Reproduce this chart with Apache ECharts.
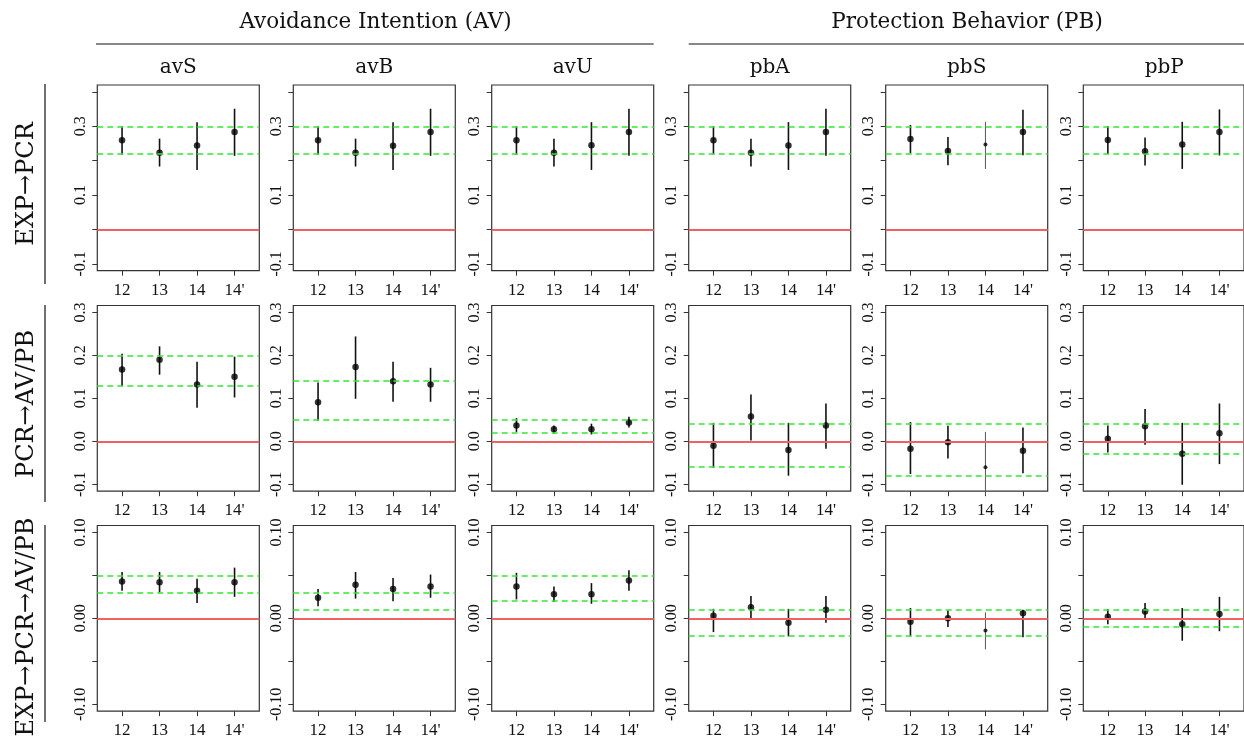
<!DOCTYPE html>
<html>
<head>
<meta charset="UTF-8">
<title>Mediation estimates</title>
<script src="https://cdn.jsdelivr.net/npm/echarts@6/dist/echarts.min.js"></script>
<style>
  html, body { margin: 0; padding: 0; background: #fff; }
  #main { width: 1244px; height: 740px; }
</style>
</head>
<body>
<div id="main"></div>
<script>
// studies on the x axis, outcomes across, paths down
var studies = ['12', '13', '14', "14'"];
var outcomes = ['avS', 'avB', 'avU', 'pbA', 'pbS', 'pbP'];
var paths = ['EXP\u2192PCR', 'PCR\u2192AV/PB', 'EXP\u2192PCR\u2192AV/PB'];
var groups = ['Avoidance Intention (AV)', 'Protection Behavior (PB)'];

// EXP -> PCR
var estA = [
  [0.259, 0.223, 0.244, 0.283], [0.259, 0.223, 0.243, 0.283], [0.259, 0.223, 0.245, 0.283],
  [0.259, 0.223, 0.244, 0.283], [0.263, 0.228, 0.247, 0.283], [0.260, 0.227, 0.247, 0.283]
];
var lowA = [
  [0.217, 0.183, 0.173, 0.214], [0.217, 0.183, 0.173, 0.214], [0.217, 0.183, 0.173, 0.214],
  [0.218, 0.183, 0.173, 0.214], [0.221, 0.187, 0.176, 0.216], [0.219, 0.186, 0.176, 0.215]
];
var highA = [
  [0.300, 0.264, 0.312, 0.351], [0.300, 0.264, 0.312, 0.351], [0.300, 0.264, 0.312, 0.351],
  [0.300, 0.264, 0.312, 0.351], [0.304, 0.269, 0.313, 0.348], [0.301, 0.267, 0.313, 0.349]
];
var bandA = [[0.218, 0.300], [0.218, 0.300], [0.218, 0.300], [0.218, 0.300], [0.221, 0.304], [0.219, 0.301]];

// PCR -> AV/PB
var estB = [
  [0.167, 0.190, 0.132, 0.150], [0.091, 0.173, 0.140, 0.132], [0.037, 0.028, 0.028, 0.044],
  [-0.010, 0.058, -0.020, 0.037], [-0.017, -0.002, -0.060, -0.022], [0.006, 0.035, -0.029, 0.019]
];
var lowB = [
  [0.128, 0.155, 0.078, 0.102], [0.048, 0.099, 0.092, 0.092], [0.022, 0.018, 0.016, 0.032],
  [-0.062, 0.002, -0.080, -0.017], [-0.076, -0.040, -0.125, -0.074], [-0.026, -0.008, -0.101, -0.053]
];
var highB = [
  [0.204, 0.221, 0.185, 0.197], [0.137, 0.244, 0.185, 0.171], [0.054, 0.037, 0.041, 0.057],
  [0.043, 0.109, 0.043, 0.088], [0.045, 0.036, 0.022, 0.032], [0.037, 0.075, 0.043, 0.088]
];
var bandB = [[0.128, 0.204], [0.048, 0.137], [0.022, 0.054], [-0.062, 0.043], [-0.076, 0.045], [-0.026, 0.037]];

// EXP -> PCR -> AV/PB
var estC = [
  [0.043, 0.042, 0.032, 0.042], [0.024, 0.039, 0.034, 0.037], [0.037, 0.028, 0.028, 0.044],
  [0.003, 0.013, -0.005, 0.010], [-0.004, 0.000, -0.014, 0.006], [0.002, 0.008, -0.007, 0.005]
];
var lowC = [
  [0.032, 0.030, 0.018, 0.025], [0.014, 0.023, 0.020, 0.024], [0.022, 0.019, 0.017, 0.032],
  [-0.016, -0.001, -0.021, -0.005], [-0.021, -0.010, -0.036, -0.022], [-0.007, -0.002, -0.026, -0.015]
];
var highC = [
  [0.054, 0.054, 0.046, 0.059], [0.034, 0.054, 0.047, 0.051], [0.053, 0.037, 0.041, 0.056],
  [0.011, 0.026, 0.011, 0.026], [0.012, 0.009, 0.007, 0.010], [0.011, 0.018, 0.012, 0.025]
];
var bandC = [[0.032, 0.054], [0.014, 0.034], [0.022, 0.053], [-0.016, 0.011], [-0.021, 0.012], [-0.007, 0.011]];

// y axis ticks and labels per row
var yTicks = [
  [-0.1, 0, 0.1, 0.2, 0.3, 0.4],
  [-0.1, 0, 0.1, 0.2, 0.3],
  [-0.1, -0.05, 0, 0.05, 0.1]
];
var yLabels = [
  [-0.1, 0.1, 0.3],
  [-0.1, 0, 0.1, 0.2, 0.3],
  [-0.1, 0, 0.1]
];
var yDigits = [1, 1, 2];
var yRange = [[-0.12, 0.42], [-0.116, 0.316], [-0.108, 0.108]];

var rows = [
  { est: estA, low: lowA, high: highA, band: bandA },
  { est: estB, low: lowB, high: highB, band: bandB },
  { est: estC, low: lowC, high: highC, band: bandC }
];

// layout
var colLeft = [97.3, 293.3, 491.7, 688.7, 885.7, 1083.3];
var rowTop = [85, 305.5, 525.5];
var boxW = 162, boxH = 185.7;
var serif = '"Liberation Serif", serif';
var wide = '"DejaVu Serif", serif';

function draw() {
  var chart = echarts.init(document.getElementById('main'));

  var grid = [], xAxis = [], yAxis = [], series = [];
  var k = 0;
  for (var r = 0; r < 3; r++) {
    for (var c = 0; c < 6; c++) {
      grid.push({
        left: colLeft[c], top: rowTop[r], width: boxW, height: boxH,
        show: true, borderColor: '#333', borderWidth: 1.2, backgroundColor: 'transparent'
      });
      xAxis.push({
        type: 'value', gridIndex: k, min: 0.34, max: 4.66,
        axisLine: { show: false, onZero: false },
        splitLine: { show: false },
        axisTick: { show: true, length: 5, lineStyle: { color: '#333' }, customValues: [1, 2, 3, 4] },
        axisLabel: {
          customValues: [1, 2, 3, 4], margin: 11, fontFamily: serif, fontSize: 17, color: '#111',
          formatter: function (v) { return studies[Math.round(v) - 1]; }
        }
      });
      (function (rr) {
        yAxis.push({
          type: 'value', gridIndex: k, min: yRange[rr][0], max: yRange[rr][1],
          axisLine: { show: false, onZero: false },
          splitLine: { show: false },
          axisTick: { show: true, length: 5, lineStyle: { color: '#333' }, customValues: yTicks[rr] },
          axisLabel: {
            customValues: yLabels[rr], rotate: 90, margin: 9, fontFamily: serif, fontSize: 16, color: '#111',
            formatter: function (v) { return v.toFixed(yDigits[rr]); }
          }
        });
      })(r);

      var d = rows[r];
      var bars = [], pts = [];
      for (var i = 0; i < 4; i++) {
        var weak = (outcomes[c] === 'pbS' && i === 2) ? 1 : 0;
        bars.push([i + 1, d.low[c][i], d.high[c][i], weak]);
        pts.push([i + 1, d.est[c][i], weak]);
      }
      series.push({
        type: 'custom', xAxisIndex: k, yAxisIndex: k, silent: true, z: 2,
        data: bars,
        encode: { x: 0, y: [1, 2] },
        renderItem: function (params, api) {
          var a = api.coord([api.value(0), api.value(1)]);
          var b = api.coord([api.value(0), api.value(2)]);
          var weak = api.value(3);
          return {
            type: 'line',
            shape: { x1: a[0], y1: a[1], x2: b[0], y2: b[1] },
            style: { stroke: weak ? '#555' : '#111', lineWidth: weak ? 1 : 1.6 }
          };
        },
        markLine: {
          silent: true, symbol: ['none', 'none'], label: { show: false },
          data: [
            { yAxis: 0, lineStyle: { color: '#f06262', width: 2, type: 'solid' } },
            { yAxis: d.band[c][0], lineStyle: { color: '#33e833', width: 1.5, type: [6, 4] } },
            { yAxis: d.band[c][1], lineStyle: { color: '#33e833', width: 1.5, type: [6, 4] } }
          ]
        }
      });
      series.push({
        type: 'scatter', xAxisIndex: k, yAxisIndex: k, silent: true, z: 3,
        data: pts,
        symbolSize: function (v) { return v[2] ? 4 : 6.5; },
        itemStyle: { color: '#000' }
      });
      k++;
    }
  }

  // headers, panel titles, row labels
  var graphic = [];
  var fontHead = '21.5px ' + wide;
  var fontTitle = '20px ' + wide;
  graphic.push({ type: 'text', x: (colLeft[0] + colLeft[2] + boxW) / 2, y: 22,
    style: { text: groups[0], font: fontHead, fill: '#111', align: 'center', verticalAlign: 'middle' } });
  graphic.push({ type: 'text', x: (colLeft[3] + colLeft[5] + boxW) / 2, y: 22,
    style: { text: groups[1], font: fontHead, fill: '#111', align: 'center', verticalAlign: 'middle' } });
  graphic.push({ type: 'line', shape: { x1: 96, y1: 44, x2: colLeft[2] + boxW, y2: 44 }, style: { stroke: '#111', lineWidth: 1.2 } });
  graphic.push({ type: 'line', shape: { x1: colLeft[3], y1: 44, x2: 1244, y2: 44 }, style: { stroke: '#111', lineWidth: 1.2 } });
  for (var c2 = 0; c2 < 6; c2++) {
    graphic.push({ type: 'text', x: colLeft[c2] + boxW / 2, y: 68,
      style: { text: outcomes[c2], font: fontTitle, fill: '#111', align: 'center', verticalAlign: 'middle' } });
  }
  var rowLabelY = [184, 404, 627];
  var rowLine = [[84, 284], [305, 502], [525, 722]];
  for (var r2 = 0; r2 < 3; r2++) {
    graphic.push({ type: 'text', x: 27, y: rowLabelY[r2], rotation: Math.PI / 2,
      style: { text: paths[r2], font: '24px ' + wide, fill: '#111', align: 'center', verticalAlign: 'middle' } });
    graphic.push({ type: 'line', shape: { x1: 45, y1: rowLine[r2][0], x2: 45, y2: rowLine[r2][1] },
      style: { stroke: '#111', lineWidth: 1.2 } });
  }

  chart.setOption({
    animation: false,
    backgroundColor: '#fff',
    grid: grid,
    xAxis: xAxis,
    yAxis: yAxis,
    series: series,
    graphic: graphic
  });
}

if (document.fonts && document.fonts.load) {
  Promise.all([
    document.fonts.load('16px "Liberation Serif"'),
    document.fonts.load('20px "DejaVu Serif"')
  ]).then(draw, draw);
} else {
  draw();
}
</script>
</body>
</html>
